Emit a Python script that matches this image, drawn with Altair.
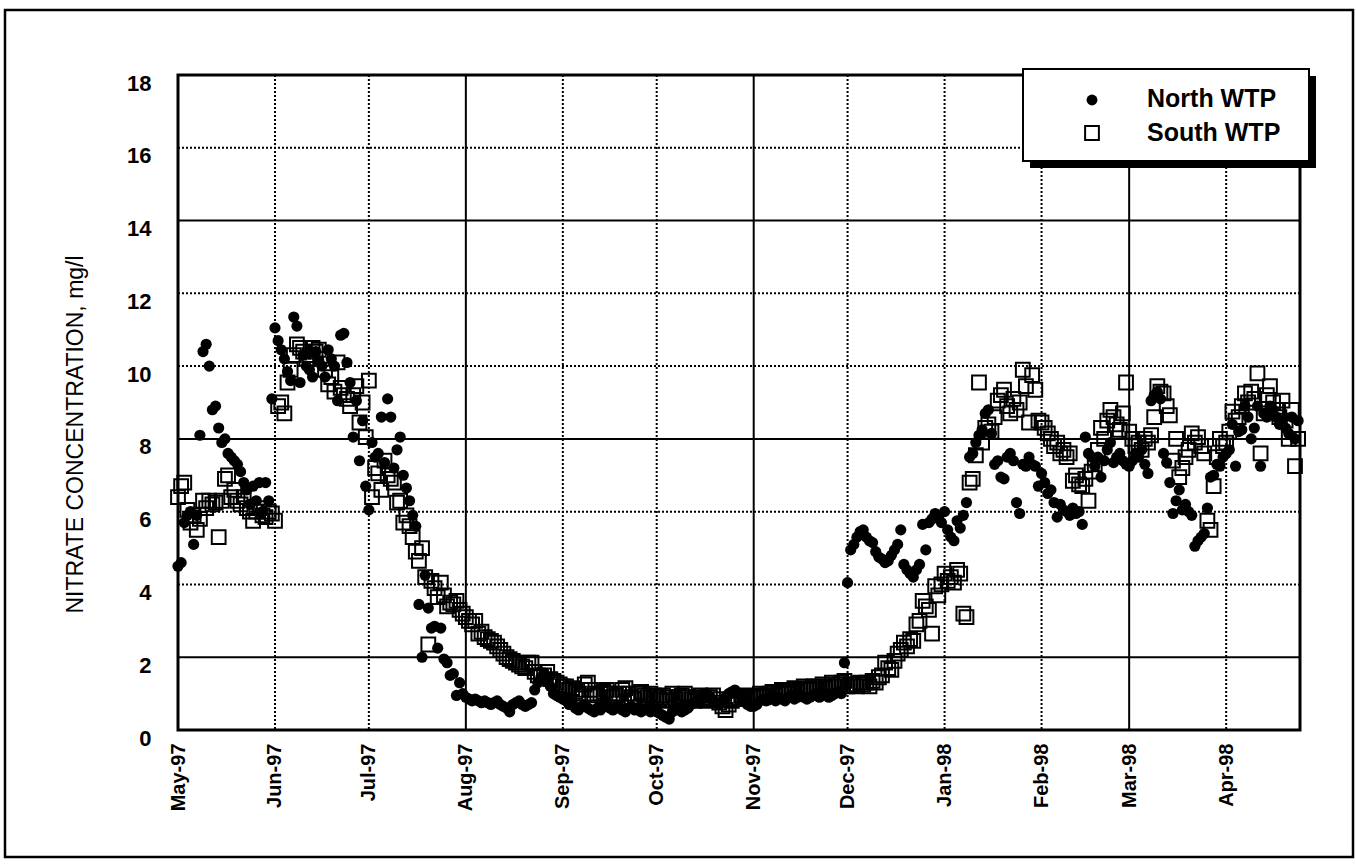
import altair as alt
import pandas as pd

# ---------------- data (day 0 = 1 May 1997) ----------------
north_may = [4.5, 4.6, 5.7, 5.9, 6.0, 5.1, 5.9, 8.1, 10.4, 10.6, 10.0, 8.8, 8.9, 8.3, 7.9, 8.0,
             7.6, 7.5, 7.4, 7.3, 7.1, 6.8, 6.6, 6.2, 6.7, 6.3, 6.8, 6.0, 6.8, 6.3, 9.1]
north_jun = [11.05, 10.7, 10.45, 10.2, 9.85, 9.6, 11.35, 11.1, 9.55, 10.3, 10.0, 9.9, 9.7, 10.4, 10.15,
             10.0, 9.7, 10.45, 10.2, 10.0, 9.05, 10.85, 10.9, 10.1, 9.55, 8.05, 9.05, 7.4, 8.5, 6.7]
north_jul = [6.05, 7.9, 7.5, 7.6, 8.6, 7.35, 9.1, 8.6, 7.2, 7.7, 8.05, 7.0, 6.65, 6.3, 5.9, 5.6,
             3.45, 2.0, 4.25, 3.35, 2.8, 2.85, 2.25, 2.8, 1.95, 1.85, 1.5, 1.55, 0.95, 1.3, 1.0]
north_aug = [0.9, 0.85, 0.8, 0.85, 0.8, 0.75, 0.8, 0.75, 0.7, 0.75, 0.8, 0.7, 0.65, 0.6, 0.5, 0.7,
             0.75, 0.8, 0.7, 0.65, 0.7, 0.75, 1.1, 1.3, 1.45, 1.55, 1.4, 1.2, 1.0, 0.95, 0.9]
north_sep = [0.85, 0.8, 0.7, 0.75, 0.6, 0.55, 0.65, 0.7, 0.6, 0.55, 0.5, 0.6, 0.55, 0.65, 0.7,
             0.6, 0.55, 0.6, 0.65, 0.55, 0.5, 0.6, 0.65, 0.55, 0.6, 0.5, 0.55, 0.6, 0.5, 0.55]
north_oct = [0.5, 0.45, 0.4, 0.35, 0.3, 0.5, 0.55, 0.6, 0.5, 0.55, 0.6, 0.7, 0.75, 0.8, 0.9, 1.0,
             1.0, 0.9, 0.8, 0.75, 0.7, 0.8, 0.9, 1.0, 1.05, 1.1, 1.0, 0.9, 0.8, 0.7, 0.65]
north_nov = [0.65, 0.7, 0.8, 0.85, 0.8, 0.9, 0.85, 0.8, 0.9, 0.85, 0.8, 0.9, 0.95, 0.85, 0.9,
             0.95, 0.9, 0.85, 0.9, 0.95, 1.0, 0.9, 0.95, 1.0, 0.9, 0.95, 1.0, 1.05, 1.0, 1.85]
north_dec = [4.05, 4.95, 5.1, 5.3, 5.45, 5.5, 5.3, 5.2, 5.15, 4.9, 4.75, 4.7, 4.6, 4.65, 4.8, 4.95,
             5.1, 5.5, 4.55, 4.4, 4.3, 4.2, 4.4, 4.55, 5.65, 4.95, 5.7, 5.8, 5.95, 5.85, 5.7]
north_jan = [6.0, 5.5, 5.3, 5.2, 5.75, 5.55, 5.9, 6.25, 7.5, 7.6, 7.9, 8.1, 8.25, 8.7, 8.8, 8.15,
             7.3, 7.4, 6.95, 6.9, 7.5, 7.6, 7.4, 6.25, 5.95, 7.3, 7.25, 7.5, 7.3, 7.25, 6.7]
north_feb = [7.05, 6.8, 6.5, 6.6, 6.25, 5.85, 6.2, 6.05, 6.0, 5.9, 6.1, 5.95, 6.0, 5.65, 8.05, 7.6,
             7.5, 7.25, 7.5, 6.95, 7.4, 7.7, 7.9, 7.35, 7.5, 7.6, 7.4, 7.3]
north_mar = [7.25, 7.4, 7.6, 7.5, 7.7, 7.3, 7.05, 9.05, 9.2, 9.3, 9.1, 7.6, 7.35, 6.8, 5.95, 6.3,
             6.6, 6.05, 6.2, 6.0, 5.9, 5.05, 5.2, 5.3, 5.4, 6.1, 6.95, 7.0, 7.3, 7.25, 7.5]
north_apr = [7.6, 7.7, 8.4, 7.25, 8.2, 8.25, 8.9, 8.6, 8.0, 8.3, 8.9, 7.25, 8.7, 8.6, 8.9, 8.8,
             8.6, 8.4, 8.5, 8.3, 8.15, 8.6, 8.0, 8.5]

south_may = [6.4, 6.7, 6.8, 6.05, 5.7, 5.9, 5.5, 5.8, 6.3, 6.1, 6.3, 6.2, 6.25, 5.3, 6.3, 6.9,
             7.0, 6.4, 6.6, 6.3, 6.2, 6.4, 6.1, 6.0, 5.75, 6.0, 6.1, 5.9, 5.85, 6.0, 5.95]
south_jun = [5.75, 8.9, 9.0, 8.7, 9.55, 9.9, 10.3, 10.6, 10.5, 10.4, 10.2, 10.3, 10.5, 10.4, 10.45,
             10.2, 9.9, 9.5, 9.7, 9.3, 10.1, 9.4, 9.2, 9.1, 8.9, 9.2, 9.45, 8.45, 9.0, 8.05]
south_jul = [9.6, 6.4, 7.2, 7.05, 6.6, 7.4, 7.0, 6.9, 6.8, 6.25, 6.3, 5.7, 5.9, 5.6, 5.3, 4.9,
             4.65, 5.0, 4.2, 2.35, 4.1, 3.9, 3.65, 4.05, 3.7, 3.4, 3.5, 3.45, 3.55, 3.3, 3.2]
south_aug = [3.1, 3.0, 2.9, 3.0, 2.65, 2.7, 2.55, 2.5, 2.45, 2.4, 2.3, 2.2, 2.1, 2.0, 1.95, 1.9,
             1.85, 1.8, 1.75, 1.7, 1.85, 1.85, 1.6, 1.5, 1.45, 1.5, 1.6, 1.4, 1.35, 1.3, 1.25]
south_sep = [1.2, 1.2, 1.1, 1.15, 1.05, 1.0, 1.1, 1.25, 1.3, 1.1, 1.0, 0.95, 1.0, 1.05, 1.1,
             1.0, 0.9, 0.95, 1.0, 1.1, 1.15, 1.0, 0.9, 0.85, 1.0, 1.05, 0.95, 0.9, 1.0, 0.95]
south_oct = [0.9, 0.85, 0.95, 0.8, 0.9, 1.0, 0.85, 0.9, 0.95, 1.0, 0.9, 0.85, 0.8, 0.9, 0.95, 0.85,
             0.8, 0.9, 0.95, 0.85, 0.75, 0.65, 0.55, 0.7, 0.8, 0.85, 0.9, 0.95, 0.9, 0.85, 0.9]
south_nov = [0.9, 0.95, 1.0, 0.9, 0.95, 1.0, 1.05, 0.95, 1.0, 1.1, 1.05, 1.0, 1.1, 1.15, 1.05,
             1.1, 1.2, 1.1, 1.15, 1.2, 1.1, 1.2, 1.25, 1.15, 1.2, 1.3, 1.2, 1.25, 1.3, 1.35]
south_dec = [1.2, 1.25, 1.25, 1.2, 1.3, 1.25, 1.3, 1.2, 1.35, 1.3, 1.45, 1.5, 1.85, 1.7, 1.65, 1.9,
             2.1, 2.2, 2.4, 2.3, 2.5, 2.45, 2.9, 3.0, 3.55, 3.4, 3.3, 2.65, 3.95, 3.7, 4.0]
south_jan = [4.3, 4.1, 4.2, 4.05, 4.4, 4.3, 3.2, 3.1, 6.8, 6.9, 7.55, 9.55, 7.9, 8.3, 8.4, 8.2,
             8.6, 9.05, 9.2, 9.35, 8.9, 8.7, 9.1, 8.8, 9.0, 9.9, 9.45, 8.45, 9.75, 9.35, 8.5]
south_feb = [8.45, 8.3, 8.15, 8.0, 7.8, 7.9, 7.6, 7.7, 7.5, 7.6, 6.85, 7.0, 6.75, 6.7, 6.9, 6.3,
             7.1, 7.3, 7.7, 8.3, 8.0, 8.5, 8.8, 8.6, 8.4, 8.25, 8.7, 9.55]
south_mar = [8.2, 8.0, 7.8, 7.9, 7.7, 8.0, 7.9, 8.1, 8.6, 9.45, 9.3, 9.25, 8.9, 8.65, 7.4, 8.0,
             6.95, 7.2, 7.5, 7.7, 8.15, 7.9, 8.05, 7.8, 7.6, 5.75, 5.5, 6.7, 7.5, 8.0, 7.8]
south_apr = [7.9, 8.2, 8.75, 8.5, 8.6, 8.9, 9.25, 9.0, 9.3, 9.1, 9.8, 7.6, 8.7, 9.2, 9.45, 9.0,
             8.8, 8.6, 9.05, 8.5, 8.0, 8.8, 7.25, 8.0]

series_names = ["North WTP", "South WTP"]
month_labels = ["May-97", "Jun-97", "Jul-97", "Aug-97", "Sep-97", "Oct-97",
                "Nov-97", "Dec-97", "Jan-98", "Feb-98", "Mar-98", "Apr-98"]
month_start_days = [0, 31, 61, 92, 123, 153, 184, 214, 245, 276, 304, 335]
y_ticks = [0, 2, 4, 6, 8, 10, 12, 14, 16, 18]
grid_y_solid = [2, 8, 14]
grid_y_dotted = [4, 6, 10, 12, 16]
grid_x_solid = [92, 184, 304]
grid_x_dotted = [31, 61, 123, 153, 214, 245, 276, 335]

north = (north_may + north_jun + north_jul + north_aug + north_sep + north_oct +
         north_nov + north_dec + north_jan + north_feb + north_mar + north_apr)
south = (south_may + south_jun + south_jul + south_aug + south_sep + south_oct +
         south_nov + south_dec + south_jan + south_feb + south_mar + south_apr)

df_n = pd.DataFrame({"day": list(range(len(north))), "value": north})
df_s = pd.DataFrame({"day": list(range(len(south))), "value": south})

# ---------------- styling ----------------
W, H = 1122, 655
FONT = "Liberation Sans"

label_expr = ("[" + ",".join("'%s'" % m for m in month_labels) + "][indexof(["
              + ",".join(str(d) for d in month_start_days) + "], datum.value)]")

xscale = alt.Scale(domain=[0, 358.6], nice=False, zero=False)
yscale = alt.Scale(domain=[0, 18], nice=False)

xaxis = alt.Axis(values=month_start_days, labelExpr=label_expr, labelAngle=270,
                 labelFont=FONT, labelFontSize=20, labelFontWeight="bold", labelColor="black",
                 labelPadding=13, labelFlush=False, labelOverlap=False,
                 ticks=False, domain=False, grid=False, title=None)
yaxis = alt.Axis(values=y_ticks, labelFont=FONT, labelFontSize=22, labelFontWeight="bold",
                 labelColor="black", labelPadding=27, labelOffset=8, labelFlush=False,
                 labelOverlap=False, ticks=False, domain=False, grid=False,
                 title="NITRATE CONCENTRATION, mg/l", titleFont=FONT, titleFontSize=23,
                 titleFontWeight="normal", titleColor="black", titleAngle=270,
                 titleX=-103, titleY=359, titleAlign="center", titleBaseline="middle")

X = alt.X("day:Q", scale=xscale, axis=xaxis)
Y = alt.Y("value:Q", scale=yscale, axis=yaxis)

h_solid = alt.Chart(pd.DataFrame({"value": grid_y_solid})).mark_rule(
    color="black", strokeWidth=2).encode(y=Y)
h_dot = alt.Chart(pd.DataFrame({"value": grid_y_dotted})).mark_rule(
    color="black", strokeWidth=2, strokeDash=[2, 2]).encode(y=Y)
v_solid = alt.Chart(pd.DataFrame({"day": grid_x_solid})).mark_rule(
    color="black", strokeWidth=2).encode(x=X)
v_dot = alt.Chart(pd.DataFrame({"day": grid_x_dotted})).mark_rule(
    color="black", strokeWidth=2, strokeDash=[2, 2]).encode(x=X)

north_pts = alt.Chart(df_n).mark_point(
    shape="circle", filled=True, color="black", size=125, opacity=1).encode(x=X, y=Y)
south_pts = alt.Chart(df_s).mark_point(
    shape="square", filled=False, color="black", size=190, strokeWidth=2, opacity=1).encode(x=X, y=Y)

one = pd.DataFrame({"k": [1]})
leg_shadow = alt.Chart(one).mark_rect(color="black").encode(
    x=alt.value(852), x2=alt.value(1138), y=alt.value(1), y2=alt.value(93))
leg_box = alt.Chart(one).mark_rect(fill="white", stroke="black", strokeWidth=2).encode(
    x=alt.value(845), x2=alt.value(1131), y=alt.value(-6), y2=alt.value(86))
leg_dot = alt.Chart(one).mark_point(
    shape="circle", filled=True, color="black", size=120, opacity=1).encode(
    x=alt.value(914), y=alt.value(25))
leg_sq = alt.Chart(one).mark_point(
    shape="square", filled=False, color="black", size=190, strokeWidth=2, opacity=1).encode(
    x=alt.value(914), y=alt.value(58))
leg_t1 = alt.Chart(one).mark_text(
    text=series_names[0], font=FONT, fontSize=25, fontWeight="bold", color="black",
    align="left", baseline="middle").encode(x=alt.value(969), y=alt.value(24))
leg_t2 = alt.Chart(one).mark_text(
    text=series_names[1], font=FONT, fontSize=25, fontWeight="bold", color="black",
    align="left", baseline="middle").encode(x=alt.value(969), y=alt.value(58))

frame = alt.Chart(one).mark_rect(fillOpacity=0, stroke="black", strokeWidth=2.5).encode(
    x=alt.value(-173), x2=alt.value(1175), y=alt.value(-65), y2=alt.value(782))

chart = alt.layer(
    h_solid, h_dot, v_solid, v_dot, north_pts, south_pts,
    leg_shadow, leg_box, leg_dot, leg_sq, leg_t1, leg_t2, frame
).properties(
    width=W, height=H,
    autosize=alt.AutoSizeParams(type="none"),
    padding={"left": 178, "top": 75, "right": 56, "bottom": 134},
    background="white",
).configure_view(stroke="black", strokeWidth=3)

chart.save("out.html", embed_options={"renderer": "svg", "actions": False})
